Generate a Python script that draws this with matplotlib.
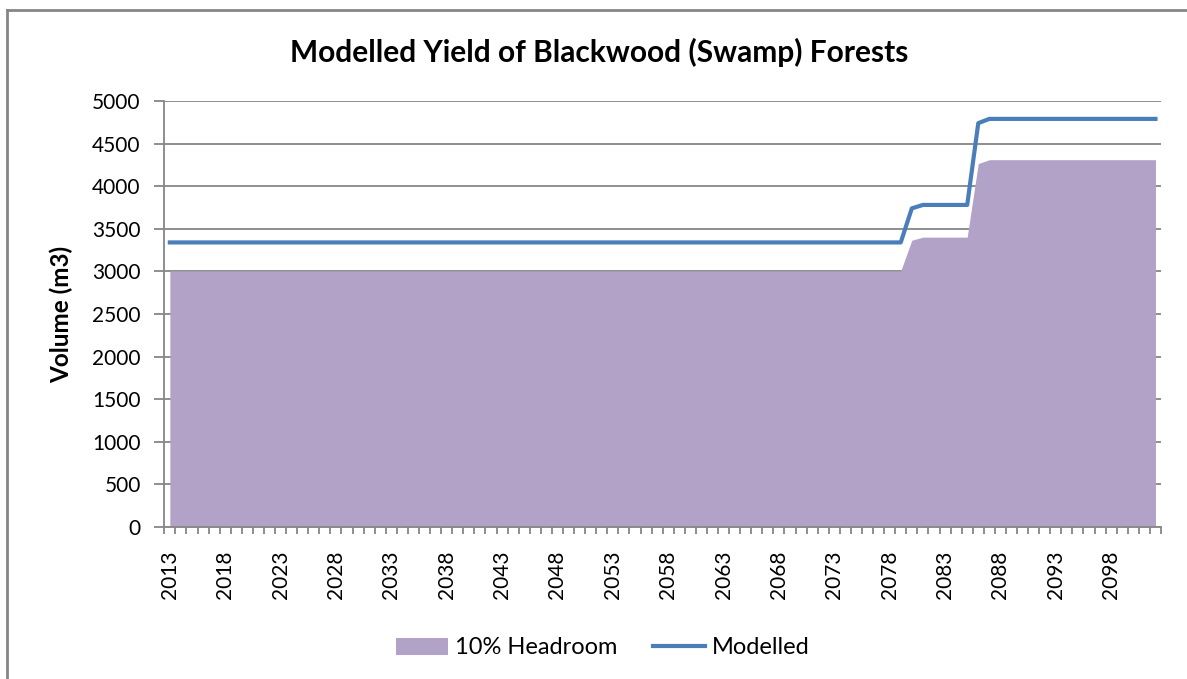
import matplotlib
matplotlib.use("Agg")
import matplotlib.pyplot as plt
from matplotlib.lines import Line2D
from matplotlib.patches import Patch
import numpy as np

plt.rcParams['font.family'] = ['Lato', 'DejaVu Sans']

years = list(range(2013, 2103))
modelled = [3340] * 67 + [3740] + [3780] * 5 + [4740] + [4790] * 16
headroom = [3006] * 67 + [3366] + [3402] * 5 + [4266] + [4311] * 16
yticks = [0, 500, 1000, 1500, 2000, 2500, 3000, 3500, 4000, 4500, 5000]
title = "Modelled Yield of Blackwood (Swamp) Forests"
ylabel = "Volume (m3)"
series_names = ["10% Headroom", "Modelled"]

fill_color = "#b2a2c7"
line_color = "#4a7ebb"
grid_color = "#868686"

fig = plt.figure(figsize=(11.87, 6.79), dpi=100)
ax = fig.add_axes([164.3 / 1187, 1 - 527 / 679, (1161 - 164.3) / 1187, (527 - 101) / 679])

x = np.arange(len(years))
ax.fill_between(x, 0, headroom, color=fill_color, linewidth=0, zorder=2)
ax.plot(x, modelled, color=line_color, linewidth=3, zorder=3, solid_joinstyle='round')

ax.set_xlim(-0.5, len(years) - 0.5)
ax.set_ylim(0, 5000)
ax.set_yticks(yticks)
ax.set_yticklabels([str(v) for v in yticks], fontsize=15)
ax.yaxis.grid(True, color=grid_color, linewidth=1.3, zorder=1)
ax.set_axisbelow(True)

# x ticks: labels every 5 years centred on categories, tick marks at boundaries
ax.set_xticks(x[::5])
ax.set_xticklabels([str(years[i]) for i in x[::5]], rotation=90, fontsize=15)
ax.tick_params(axis='x', which='major', length=0, pad=17)
ax.set_xticks(np.arange(len(years) + 1) - 0.5, minor=True)
ax.tick_params(axis='x', which='minor', length=5, width=1.3, color=grid_color, direction='out')
ax.tick_params(axis='y', length=7, width=1.3, color=grid_color, pad=10)

for s in ['top', 'right']:
    ax.spines[s].set_visible(False)
for s in ['left', 'bottom']:
    ax.spines[s].set_color(grid_color)
    ax.spines[s].set_linewidth(1.3)

ax.set_ylabel(ylabel, fontsize=17.5, fontweight='bold', labelpad=14)
fig.text(599 / 1187, 1 - 52 / 679, title, fontsize=21.5, fontweight='bold', ha='center', va='center')

handles = [Patch(facecolor=fill_color, edgecolor='none'),
           Line2D([0], [0], color=line_color, linewidth=3)]
fig.legend(handles, series_names, loc='center', bbox_to_anchor=(603 / 1187, 1 - 648 / 679),
           ncol=2, frameon=False, fontsize=17, handlelength=2.2, columnspacing=1.5, handletextpad=0.3)

# chart border
fig.add_artist(Line2D([7 / 1187, 7 / 1187], [0, 1 - 10 / 679], color=grid_color, linewidth=2, transform=fig.transFigure))
fig.add_artist(Line2D([7 / 1187, 1], [1 - 10 / 679, 1 - 10 / 679], color=grid_color, linewidth=2, transform=fig.transFigure))

fig.savefig("out.png", dpi=100)
